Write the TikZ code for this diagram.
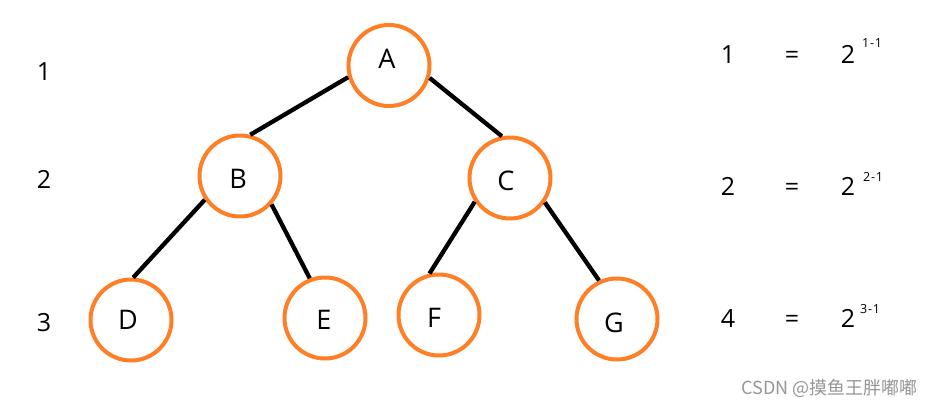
\documentclass[tikz,border=0pt]{standalone}
\usepackage{fontspec}
\setmainfont{Open Sans}
\newfontfamily\cjk{Noto Sans CJK SC}
\definecolor{paintorange}{RGB}{255,127,39}
\definecolor{wmgray}{RGB}{150,150,150}
\begin{document}
\begin{tikzpicture}[x=1pt,y=-1pt,
  vtx/.style={circle,draw=paintorange,line width=4pt,minimum size=81pt,inner sep=0pt},
  big/.style={inner sep=0pt,font=\fontsize{27}{27}\selectfont,text height=19.3pt,text depth=0pt},
  mid/.style={inner sep=0pt,font=\fontsize{25}{25}\selectfont,text height=17.9pt,text depth=0pt},
  sup/.style={inner sep=0pt,font=\fontsize{12.5}{12.5}\selectfont,text height=8.9pt,text depth=0pt},
  edge/.style={line width=4.3pt,black},
  wm/.style={inner sep=0pt,text=wmgray,font=\cjk\fontsize{18}{18}\selectfont}]
\useasboundingbox (0,0) rectangle (934,407);
\fill[white] (0,0) rectangle (934,407);
% circles
\node[vtx] (A) at (389,65.5) {};
\node[vtx] (B) at (240,176) {};
\node[vtx] (C) at (510,178) {};
\node[vtx] (D) at (131,320) {};
\node[vtx] (E) at (325,318) {};
\node[vtx] (F) at (439,315) {};
\node[vtx] (G) at (617,319) {};
% letters
\node[big] (tA) at (387,59) {A};
\node[big] (tB) at (238,179) {B};
\node[big] (tC) at (506,181) {C};
\node[big] (tD) at (128,320) {D};
\node[big] (tE) at (324,320) {E};
\node[big] (tF) at (434,318) {F};
\node[big] (tG) at (614,323) {G};
% edges
\draw[edge] (A.196) -- (B.76);
\draw[edge] (A.343) -- (C.101);
\draw[edge] (B.214) -- (D.87);
\draw[edge] (B.318) -- (E.111);
\draw[edge] (C.214) -- (F.103);
\draw[edge] (C.325) -- (G.115);
% level numbers
\node[mid] (l1) at (44,72) {1};
\node[mid] (l2) at (44,180) {2};
\node[mid] (l3) at (44,323) {3};
% right formulas
\node[mid] (n1) at (728,55) {1};
\node[mid] (e1) at (792,55) {=};
\node[mid] (p1) at (848,55) {2};
\node[sup] (s1) at (872,43) {1\kern0.8pt-\kern0.8pt1};
\node[mid] (n2) at (728,187) {2};
\node[mid] (e2) at (792,187) {=};
\node[mid] (p2) at (848,187) {2};
\node[sup] (s2) at (873,177) {2\kern0.8pt-\kern0.8pt1};
\node[mid] (n3) at (728,319) {4};
\node[mid] (e3) at (792,319) {=};
\node[mid] (p3) at (848,319) {2};
\node[sup] (s3) at (870,309) {3\kern0.8pt-\kern0.8pt1};
% watermark
\node[wm,anchor=east] (wm) at (918,388) {CSDN @摸鱼王胖嘟嘟};
\end{tikzpicture}
\end{document}
